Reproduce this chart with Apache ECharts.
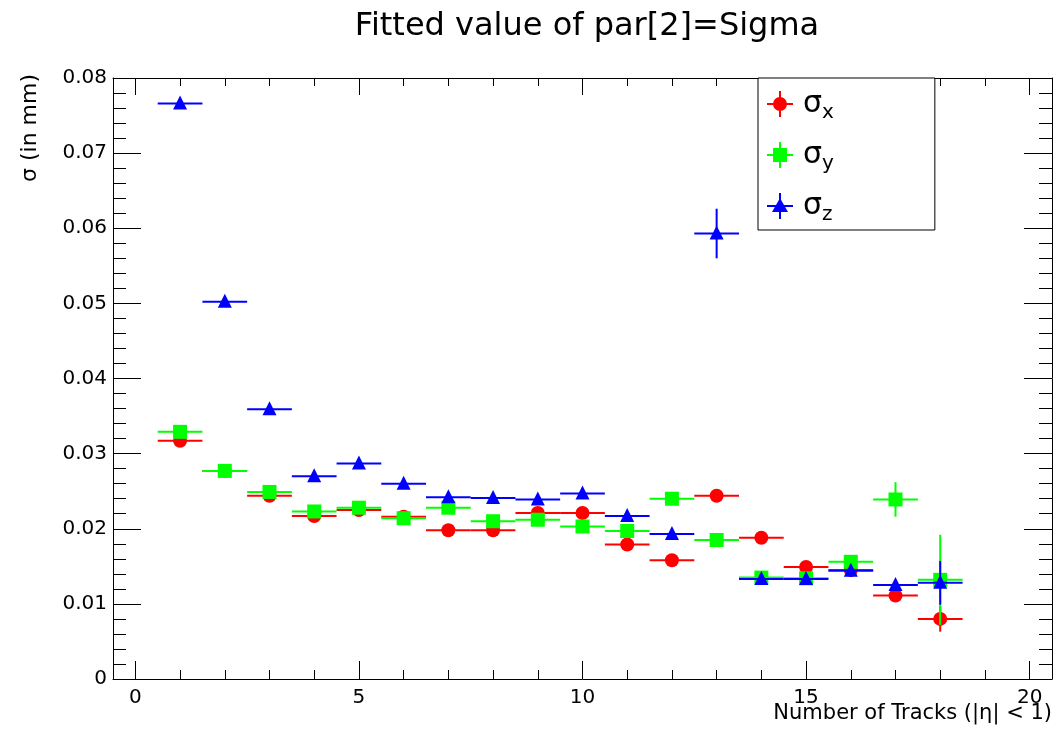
<!DOCTYPE html>
<html>
<head>
<meta charset="utf-8">
<script src="https://cdn.jsdelivr.net/npm/echarts@6/dist/echarts.min.js"></script>
<style>
html,body{margin:0;padding:0;background:#fff;}
#chart{width:1056px;height:734px;}
</style>
</head>
<body>
<div id="chart"></div>
<script>
// ---- data ----
const nTracks = [1,2,3,4,5,6,7,8,9,10,11,12,13,14,15,16,17,18];
const sigmaX = [0.0317,0.0277,0.0244,0.0217,0.0225,0.0216,0.0198,0.0198,0.0221,0.0221,0.0179,0.0158,0.0244,0.0188,0.0149,0.0145,0.0111,0.0080];
const sigmaXErr = [0.0003,0.0003,0.0003,0.0003,0.0003,0.0003,0.0003,0.0003,0.0003,0.0003,0.0004,0.0004,0.0004,0.0005,0.0005,0.0006,0.0007,0.0017];
const sigmaY = [0.0329,0.0277,0.0249,0.0223,0.0228,0.0214,0.0228,0.0210,0.0212,0.0203,0.0197,0.0240,0.0185,0.0135,0.0134,0.0156,0.0239,0.0132];
const sigmaYErr = [0.0003,0.0003,0.0003,0.0003,0.0003,0.0003,0.0003,0.0003,0.0003,0.0003,0.0004,0.0004,0.0004,0.0005,0.0005,0.0006,0.0023,0.0060];
const sigmaZ = [0.0766,0.0502,0.0359,0.0270,0.0287,0.0260,0.0242,0.0241,0.0239,0.0247,0.0217,0.0193,0.0593,0.0133,0.0133,0.0144,0.0125,0.0128];
const sigmaZErr = [0.0003,0.0003,0.0003,0.0003,0.0003,0.0003,0.0003,0.0003,0.0003,0.0003,0.0004,0.0004,0.0033,0.0005,0.0005,0.0008,0.0007,0.0029];
const xMajorTicks = [0,5,10,15,20];
const xMinorTicks = [0,1,2,3,4,5,6,7,8,9,10,11,12,13,14,15,16,17,18,19,20];
const seriesNames = ['σx','σy','σz'];
const seriesColors = ['#ff0000','#00ff00','#0000ff'];
const titleText = 'Fitted value of par[2]=Sigma';
const xTitle = 'Number of Tracks (|η| < 1)';
const yTitle = 'σ (in mm)';

const FONT = 'DejaVu Sans';

function makeData(ys, errs){
  return nTracks.map((x,i)=>[x, ys[i], errs[i]]);
}

function makeRender(shape, color){
  return function(params, api){
    const x = api.value(0), y = api.value(1), e = api.value(2);
    const pL = api.coord([x-0.5, y]);
    const pR = api.coord([x+0.5, y]);
    const pT = api.coord([x, y+e]);
    const pB = api.coord([x, y-e]);
    const c = api.coord([x, y]);
    const lineStyle = {stroke: color, lineWidth: 2};
    const children = [
      {type:'line', shape:{x1:pL[0], y1:pL[1], x2:pR[0], y2:pR[1]}, style: lineStyle},
      {type:'line', shape:{x1:pT[0], y1:pT[1], x2:pB[0], y2:pB[1]}, style: lineStyle}
    ];
    if(shape==='circle'){
      children.push({type:'circle', shape:{cx:c[0], cy:c[1], r:7}, style:{fill:color}});
    } else if(shape==='rect'){
      children.push({type:'rect', shape:{x:c[0]-7, y:c[1]-7, width:14, height:14}, style:{fill:color}});
    } else {
      children.push({type:'polygon', shape:{points:[[c[0], c[1]-8],[c[0]+7, c[1]+6],[c[0]-7, c[1]+6]]}, style:{fill:color}});
    }
    return {type:'group', children};
  };
}

const crossPath = 'M0,12H26V14H0Z M12,0H14V26H12Z ';
const icons = [
  'path://' + crossPath + 'M6,13A7,7 0 1,1 20,13A7,7 0 1,1 6,13Z',
  'path://' + crossPath + 'M6,6H20V20H6Z',
  'path://' + crossPath + 'M13,5L21,19H5Z'
];

const axisLineStyle = {color:'#000', width:1};

const chart = echarts.init(document.getElementById('chart'), null, {renderer:'canvas'});
const option = {
  backgroundColor:'#fff',
  animation:false,
  title:{
    text:titleText,
    left:582, top:6, textAlign:'center',
    textStyle:{fontFamily:FONT, fontSize:32, fontWeight:'normal', color:'#000'}
  },
  grid:{left:113, right:4, top:78, bottom:55, containLabel:false, outerBoundsMode:'none'},
  legend:{
    orient:'vertical', left:758, top:78,
    backgroundColor:'#fff', borderColor:'#000', borderWidth:1,
    padding:[7,101,5,9],
    itemGap:13,
    itemWidth:26, itemHeight:26,
    data: seriesNames.map((n,i)=>({name:n, icon:icons[i]})),
    formatter: function(name){ return '{a|σ}{s|' + name.slice(1) + '}'; },
    textStyle:{
      fontFamily:FONT, color:'#000',
      rich:{
        a:{fontFamily:FONT, fontSize:30, color:'#000', lineHeight:38, padding:[0,0,0,5]},
        s:{fontFamily:FONT, fontSize:20, color:'#000', lineHeight:38, padding:[18,0,0,0]}
      }
    }
  },
  xAxis:[
    {type:'value', position:'bottom', min:-0.5, max:20.5,
     axisLine:{show:true, onZero:false, lineStyle:axisLineStyle},
     axisTick:{show:true, inside:true, length:18, customValues:xMajorTicks, lineStyle:axisLineStyle},
     axisLabel:{show:true, customValues:xMajorTicks, margin:9, fontFamily:FONT, fontSize:20, color:'#000'},
     splitLine:{show:false}},
    {type:'value', position:'bottom', min:-0.5, max:20.5,
     axisLine:{show:false, onZero:false},
     axisTick:{show:true, inside:true, length:9, customValues:xMinorTicks, lineStyle:axisLineStyle},
     axisLabel:{show:false}, splitLine:{show:false}},
    {type:'value', position:'top', min:-0.5, max:20.5,
     axisLine:{show:true, onZero:false, lineStyle:axisLineStyle},
     axisTick:{show:true, inside:true, length:17, customValues:xMajorTicks, lineStyle:axisLineStyle},
     axisLabel:{show:false}, splitLine:{show:false}},
    {type:'value', position:'top', min:-0.5, max:20.5,
     axisLine:{show:false, onZero:false},
     axisTick:{show:true, inside:true, length:8, customValues:xMinorTicks, lineStyle:axisLineStyle},
     axisLabel:{show:false}, splitLine:{show:false}}
  ],
  yAxis:[
    {type:'value', position:'left', min:0, max:0.08, interval:0.01,
     axisLine:{show:true, onZero:false, lineStyle:axisLineStyle},
     axisTick:{show:true, inside:true, length:28, lineStyle:axisLineStyle},
     minorTick:{show:true, splitNumber:5, length:13, lineStyle:axisLineStyle},
     axisLabel:{show:true, margin:6, fontFamily:FONT, fontSize:20, color:'#000',
       formatter:function(v){ return v===0 ? '0' : v.toFixed(2); }},
     splitLine:{show:false}, minorSplitLine:{show:false}},
    {type:'value', position:'right', min:0, max:0.08, interval:0.01,
     axisLine:{show:true, onZero:false, lineStyle:axisLineStyle},
     axisTick:{show:true, inside:true, length:28, lineStyle:axisLineStyle},
     minorTick:{show:true, splitNumber:5, length:13, lineStyle:axisLineStyle},
     axisLabel:{show:false},
     splitLine:{show:false}, minorSplitLine:{show:false}}
  ],
  graphic:[
    {type:'text', x:30, y:128, rotation:Math.PI/2,
     style:{text:yTitle, fontFamily:FONT, fontSize:22, fill:'#000', textAlign:'center', textVerticalAlign:'middle'}},
    {type:'text', x:1052, y:714,
     style:{text:xTitle, fontFamily:FONT, fontSize:21, fill:'#000', textAlign:'right', textVerticalAlign:'middle'}}
  ],
  series:[
    {type:'custom', name:seriesNames[0], xAxisIndex:0, yAxisIndex:0, itemStyle:{color:seriesColors[0]},
     renderItem:makeRender('circle', seriesColors[0]), data:makeData(sigmaX, sigmaXErr), z:3},
    {type:'custom', name:seriesNames[1], xAxisIndex:0, yAxisIndex:0, itemStyle:{color:seriesColors[1]},
     renderItem:makeRender('rect', seriesColors[1]), data:makeData(sigmaY, sigmaYErr), z:4},
    {type:'custom', name:seriesNames[2], xAxisIndex:0, yAxisIndex:0, itemStyle:{color:seriesColors[2]},
     renderItem:makeRender('triangle', seriesColors[2]), data:makeData(sigmaZ, sigmaZErr), z:5}
  ]
};
chart.setOption(option);
</script>
</body>
</html>
